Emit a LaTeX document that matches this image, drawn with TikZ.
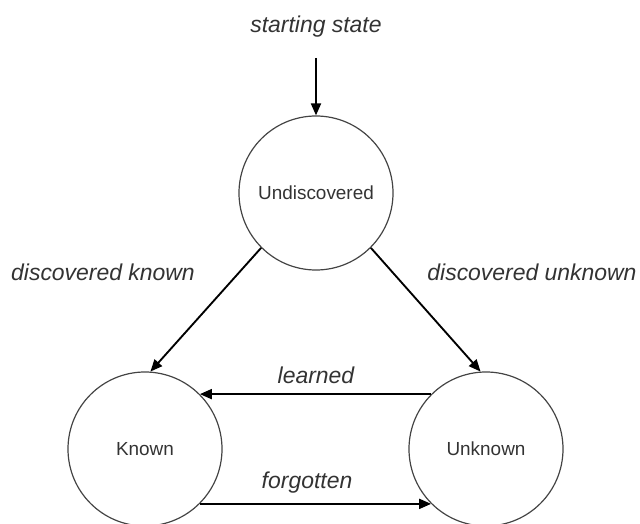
\documentclass[tikz,border=0pt]{standalone}
\usepackage{fontspec}
\setmainfont{Liberation Sans}
\usetikzlibrary{arrows.meta}
\definecolor{txt}{HTML}{333333}
\definecolor{ring}{HTML}{444444}
\tikzset{
  statenode/.style={circle,draw=ring,line width=0.9pt,minimum size=115.5pt,inner sep=0pt,text=txt,font=\fontsize{14.2pt}{16pt}\selectfont},
  edgelabel/.style={text=txt,font=\fontsize{17.2pt}{20pt}\selectfont\itshape,inner sep=0pt},
  arr/.style={draw=black,line width=1.4pt,-{Triangle[length=9pt,width=7.5pt]}}
}
\begin{document}
\begin{tikzpicture}[x=0.75pt,y=-0.75pt]
\useasboundingbox (0,0) rectangle (640,524);
\node[statenode] (U) at (316,193) {Undiscovered};
\node[statenode] (K) at (145,449) {Known};
\node[statenode] (N) at (486,449) {Unknown};
\coordinate (S) at (316,58);
\node[edgelabel] (st) at (316,27) {starting state};
\node[edgelabel] (dk) at (103,272) {discovered known};
\node[edgelabel] (du) at (532,272) {discovered unknown};
\node[edgelabel] (le) at (316,375) {learned};
\node[edgelabel] (fo) at (307,483) {forgotten};
\draw[arr] (S) -- (U);
\draw[arr] (U.225) -- (K.86);
\draw[arr] (U.315) -- (N.94);
\draw[arr] (N.135) -- (K.45);
\draw[arr] (K.-45) -- (N.-135);
\end{tikzpicture}
\end{document}
